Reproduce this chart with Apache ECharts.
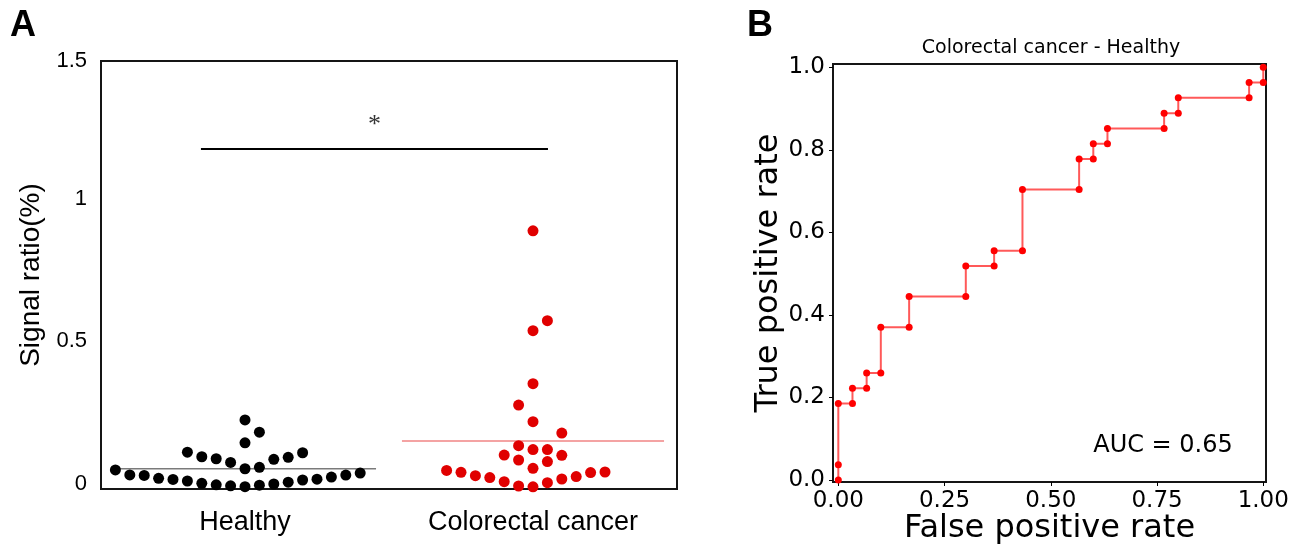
<!DOCTYPE html>
<html>
<head>
<meta charset="utf-8">
<title>Signal ratio and ROC</title>
<script src="https://cdn.jsdelivr.net/npm/echarts@6/dist/echarts.min.js"></script>
<style>
  html, body { margin: 0; padding: 0; background: #fff; }
  #chart { width: 1301px; height: 545px; }
</style>
</head>
<body>
<div id="chart"></div>
<script>
// Group labels
const categories = ['Healthy', 'Colorectal cancer'];

// Signal ratio (%) per subject
const healthy = [
  0.0082, 0.0112, 0.0133, 0.0147, 0.0175, 0.020, 0.024, 0.028, 0.0315, 0.0336,
  0.0343, 0.0375, 0.042, 0.0477, 0.0487, 0.0494, 0.056, 0.067,
  0.071, 0.076, 0.093, 0.104, 0.106, 0.111, 0.113, 0.127, 0.129,
  0.162, 0.199, 0.242
];
const cancer = [
  0.0075, 0.0105, 0.022, 0.0255, 0.035, 0.040, 0.0435, 0.0466, 0.0575, 0.0585,
  0.0596, 0.065,
  0.0726, 0.096, 0.1016, 0.118, 0.119,
  0.138, 0.138, 0.152, 0.196,
  0.236, 0.294, 0.369, 0.555, 0.59, 0.905
];

// Tick labels
const yTicksA = [0, 0.5, 1, 1.5];
const xTicksB = [0, 0.25, 0.5, 0.75, 1];
const yTicksB = [0, 0.2, 0.4, 0.6, 0.8, 1];

// Swarm layout: values closer than ROW_SPAN share a row; points in a row
// step outwards by SLOT, alternating sides.
const ROW_SPAN = 0.061;
const SLOT = 0.05;
function swarm(values, center) {
  const sorted = values.slice().sort((a, b) => a - b);
  const out = [];
  let dir = -1, rowStart = null, left = 0, right = 0;
  for (const v of sorted) {
    if (rowStart === null || v - rowStart > ROW_SPAN) {
      rowStart = v; left = 0; right = 0;
      out.push([center, v]);
      continue;
    }
    let slot;
    if (dir < 0) { left += 1; slot = -left; } else { right += 1; slot = right; }
    dir = -dir;
    out.push([center + slot * SLOT, v]);
  }
  return out;
}
const mean = a => a.reduce((s, v) => s + v, 0) / a.length;

// ROC curve (cancer = positive), corners only
function roc(pos, neg) {
  const thr = Array.from(new Set(pos.concat(neg))).sort((a, b) => b - a);
  const pts = thr.map(t => [neg.filter(v => v >= t).length / neg.length,
                            pos.filter(v => v >= t).length / pos.length]);
  const keep = pts.filter((p, i) => {
    if (i === 0 || i === pts.length - 1) return true;
    const a = pts[i - 1], c = pts[i + 1];
    return !((a[0] === p[0] && p[0] === c[0]) || (a[1] === p[1] && p[1] === c[1]));
  });
  return [[0, 0]].concat(keep);
}
const rocPts = roc(cancer, healthy);
let auc = 0;
for (let i = 1; i < rocPts.length; i++) {
  auc += (rocPts[i][0] - rocPts[i - 1][0]) * (rocPts[i][1] + rocPts[i - 1][1]) / 2;
}

const FONT = "'Liberation Sans', Arial, sans-serif";
const FONT_B = "'DejaVu Sans', sans-serif";
const cx = [0.5, 1.5];
const HALF = 0.455;
const mH = mean(healthy), mC = mean(cancer);
const bracketY = 1.192;
const bracket = [[0.347, bracketY], [1.552, bracketY]];
const yMaxA = yTicksA[yTicksA.length - 1];

const chart = echarts.init(document.getElementById('chart'), null, { renderer: 'canvas' });
chart.setOption({
  animation: false,
  textStyle: { fontFamily: FONT, color: '#000' },
  grid: [
    { left: 101, top: 61, width: 576, height: 428, show: true, borderColor: '#151515', borderWidth: 2,
      backgroundColor: 'transparent', outerBoundsMode: 'none', containLabel: false },
    { left: 833, top: 64, width: 433, height: 418, show: true, borderColor: '#151515', borderWidth: 2,
      backgroundColor: 'transparent', outerBoundsMode: 'none', containLabel: false }
  ],
  xAxis: [
    {
      type: 'value', gridIndex: 0, min: 0, max: 2,
      axisLine: { show: false, onZero: false }, axisTick: { show: false }, splitLine: { show: false },
      axisLabel: {
        customValues: cx, fontSize: 27, color: '#000', margin: 20, fontFamily: FONT,
        formatter: v => categories[Math.round(v - 0.5)]
      }
    },
    {
      type: 'value', gridIndex: 1, min: -0.0125, max: 1.0064,
      axisLine: { show: false, onZero: false }, splitLine: { show: false },
      axisTick: { show: true, customValues: xTicksB, length: 4, lineStyle: { color: '#000', width: 1 } },
      axisLabel: { customValues: xTicksB, fontSize: 23, color: '#000', margin: 8, fontFamily: FONT_B, formatter: v => v.toFixed(2) },
      name: 'False positive rate', nameLocation: 'middle', nameGap: 31, nameMoveOverlap: false,
      nameTextStyle: { fontSize: 32, color: '#000', fontFamily: FONT_B }
    }
  ],
  yAxis: [
    {
      type: 'value', gridIndex: 0, min: 0, max: yMaxA,
      axisLine: { show: false, onZero: false }, axisTick: { show: false }, splitLine: { show: false },
      axisLabel: {
        customValues: yTicksA, color: '#000', margin: 14, fontFamily: FONT, fontSize: 22,
        formatter: v => (v === yMaxA ? '{e|' + v + '}' : '{n|' + v + '}'),
        rich: {
          n: { fontSize: 22, fontFamily: FONT, color: '#000', padding: [0, 0, 10, 0] },
          e: { fontSize: 22, fontFamily: FONT, color: '#000' }
        }
      },
      name: 'Signal ratio(%)', nameLocation: 'middle', nameGap: 56,
      nameTextStyle: { fontSize: 28, color: '#000', fontFamily: FONT }
    },
    {
      type: 'value', gridIndex: 1, min: -0.0048, max: 1.008,
      axisLine: { show: false, onZero: false }, splitLine: { show: false },
      axisTick: { show: true, customValues: yTicksB, length: 4, lineStyle: { color: '#000', width: 1 } },
      axisLabel: { customValues: yTicksB, fontSize: 23, color: '#000', margin: 8, fontFamily: FONT_B, formatter: v => v.toFixed(1) },
      name: 'True positive rate', nameLocation: 'middle', nameGap: 37,
      nameTextStyle: { fontSize: 32, color: '#000', fontFamily: FONT_B }
    }
  ],
  series: [
    {
      type: 'line', xAxisIndex: 0, yAxisIndex: 0, silent: true, symbol: 'none', z: 1,
      data: [[cx[0] - HALF, mH], [cx[0] + HALF, mH]],
      lineStyle: { color: '#7a7a7a', width: 1.5 }
    },
    {
      type: 'line', xAxisIndex: 0, yAxisIndex: 0, silent: true, symbol: 'none', z: 1,
      data: [[cx[1] - HALF, mC], [cx[1] + HALF, mC]],
      lineStyle: { color: '#f4a3a3', width: 2 }
    },
    {
      type: 'scatter', xAxisIndex: 0, yAxisIndex: 0, z: 3,
      data: swarm(healthy, cx[0]), symbolSize: 11,
      itemStyle: { color: '#000', opacity: 1 }
    },
    {
      type: 'scatter', xAxisIndex: 0, yAxisIndex: 0, z: 3,
      data: swarm(cancer, cx[1]), symbolSize: 11,
      itemStyle: { color: '#e00000', opacity: 1 }
    },
    {
      type: 'line', xAxisIndex: 0, yAxisIndex: 0, silent: true, symbol: 'none', z: 2,
      data: bracket, lineStyle: { color: '#000', width: 2 }
    },
    {
      type: 'scatter', xAxisIndex: 0, yAxisIndex: 0, silent: true, symbolSize: 0, z: 2,
      data: [[(bracket[0][0] + bracket[1][0]) / 2, bracketY]],
      label: { show: true, position: 'top', distance: 11, formatter: '*',
        fontSize: 26, fontFamily: "'Liberation Serif', 'DejaVu Serif', serif", color: '#000' }
    },
    {
      type: 'line', xAxisIndex: 1, yAxisIndex: 1, z: 3,
      data: rocPts, symbol: 'circle', symbolSize: 7, showSymbol: true,
      lineStyle: { color: 'rgba(255,0,0,0.65)', width: 2 },
      itemStyle: { color: '#ff0000' }
    }
  ],
  graphic: [
    { type: 'text', x: 10, y: 8, style: { text: 'A', font: "bold 36px " + FONT, fill: '#000' } },
    { type: 'text', x: 747, y: 8, style: { text: 'B', font: "bold 36px " + FONT, fill: '#000' } },
    { type: 'text', x: 1051, y: 48, style: { text: categories[1] + ' - ' + categories[0], font: "19px " + FONT_B,
      fill: '#000', textAlign: 'center', textVerticalAlign: 'middle' } },
    { type: 'text', x: 1163, y: 446, style: { text: 'AUC = ' + auc.toFixed(2), font: "24px " + FONT_B,
      fill: '#000', textAlign: 'center', textVerticalAlign: 'middle' } }
  ]
});
</script>
</body>
</html>
